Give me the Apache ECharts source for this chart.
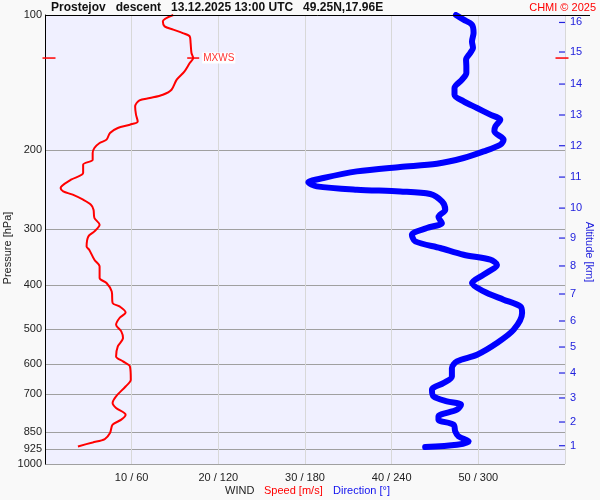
<!DOCTYPE html>
<html><head><meta charset="utf-8">
<script src="https://cdn.jsdelivr.net/npm/echarts@6/dist/echarts.min.js"></script>
<style>html,body{margin:0;padding:0;background:#F9F9F9}#c{width:600px;height:500px}</style>
</head><body><div id="c"></div>
<script>
const pressureTicks = [100, 200, 300, 400, 500, 600, 700, 850, 925, 1000];
const speedTicks = [10, 20, 30, 40, 50];
const directionTicks = [60, 120, 180, 240, 300];
const altitudeKm = [1, 2, 3, 4, 5, 6, 7, 8, 9, 10, 11, 12, 13, 14, 15, 16];
const altitudePressure = [910.5, 806.3, 712.8, 627.1, 548.9, 480.3, 418.2, 362.2, 313.9, 269.2, 229.6, 195.5, 167.0, 142.5, 120.9, 103.9];

const speedPressure = [100,103.3,106.0,107.8,109.7,111.6,115.4,121.5,124.7,127.9,133.5,139.3,146.7,150.5,153.1,154.9,159.8,166.7,172.6,175.5,178.5,183.1,189.5,192.8,197.8,202.9,210.0,215.5,224.9,232.7,242.9,247.1,251.3,257.9,264.6,271.4,283.2,293.1,303.4,311.3,327.7,333.2,350.8,363.0,385.2,395.3,412.7,437.9,445.7,459.6,473.0,489.6,506.6,524.1,547.1,576.0,590.9,606.2,649.2,672.0,706.8,731.3,750.3,776.5,796.6,817.4,853.1,879.7,895.2,913.8];
const speed = [14.8,13.6,13.8,14.8,15.9,16.7,16.8,16.9,17.1,16.7,16.1,15.2,14.6,13.6,12.1,10.9,10.4,10.5,10.7,9.8,8.4,7.5,7.1,6.3,5.7,5.5,5.5,4.4,4.4,3.0,1.8,2.1,3.2,4.4,5.3,5.6,5.7,6.3,5.7,5.0,4.8,5.1,5.7,6.3,6.3,7.1,7.7,7.8,8.6,9.3,8.6,8.2,8.8,9.0,8.4,8.2,9.0,9.8,9.9,9.3,8.2,7.8,8.2,9.3,8.8,7.8,7.5,6.9,5.5,3.8];

const dirPressure = [100,102.4,105.1,109.7,114.5,118.4,121.5,125.8,130.2,134.6,139.3,145.4,150.5,155.7,161.1,166.7,171.1,177.1,181.6,189.5,194.5,201.3,208.2,214.4,218.0,223.0,230.7,235.9,240.8,245.0,247.1,250.4,260.1,271.4,281.8,290.6,298.1,308.6,319.3,330.3,341.9,350.8,359.8,378.7,395.3,412.7,430.6,445.7,461.0,502.2,537.7,570.9,590.9,611.2,638.1,660.1,683.1,706.8,725.3,737.7,756.8,783.4,796.6,817.4,846.0,867.9,890.7,905.8,916.5];
const direction = [284.5,289.8,295.6,296.7,295.6,296.3,294.4,291.5,291.7,291.7,288.7,283.5,283.5,289.8,299.1,308.3,315.2,311.8,311.1,317.5,315.2,303.7,289.8,271.3,245.9,215.9,192.7,182.3,188.1,215.9,245.9,266.7,274.8,277.1,272.4,274.8,264.4,254.0,256.3,273.6,289.8,308.3,312.9,303.7,295.6,303.7,317.5,329.1,330.3,324.5,312.9,299.1,285.2,281.7,281.7,275.9,267.9,269.0,278.3,288.0,285.2,272.4,272.4,282.9,284.0,286.3,293.3,285.2,263.2];

const mxwsSpeed = 17.1;
const mxwsPressure = 124.7;
const speedMax = 60;

const FONT = 'Arial, "Liberation Sans", sans-serif';
const BLUE_TXT = '#2222DD';

const chart = echarts.init(document.getElementById('c'), null, {renderer: 'canvas'});

const option = {
  animation: false,
  backgroundColor: '#F9F9F9',
  textStyle: {fontFamily: FONT},
  grid: {left: 45, top: 15, width: 520, height: 449, show: true, backgroundColor: '#F0F0FF', borderWidth: 0, containLabel: false},
  xAxis: [
    {
      type: 'value', min: 0, max: speedMax, interval: 10, position: 'bottom',
      axisLine: {show: false}, axisTick: {show: false},
      splitLine: {show: true, lineStyle: {color: '#D8D8D8', width: 1}},
      axisLabel: {
        fontSize: 11, color: '#222', margin: 8, fontFamily: FONT,
        formatter: v => { const i = speedTicks.indexOf(v); return i < 0 ? '' : v + ' / ' + directionTicks[i]; }
      }
    },
    {type: 'value', min: 0, max: 360, show: false}
  ],
  yAxis: [
    {
      type: 'log', logBase: 10, min: 100, max: 1000, inverse: true, position: 'left',
      axisLine: {show: true, lineStyle: {color: '#000', width: 1}},
      axisTick: {show: false, customValues: pressureTicks},
      minorTick: {show: false},
      axisLabel: {customValues: pressureTicks, fontSize: 11, color: '#222', margin: 3, fontFamily: FONT,
        formatter: v => String(Math.round(v))},
      splitLine: {show: true, lineStyle: {color: '#A0A0A0', width: 1}},
      minorSplitLine: {show: false}
    }
  ],
  series: [
    {
      type: 'line', name: 'Direction', xAxisIndex: 1, yAxisIndex: 0,
      data: direction.map((d, i) => [d, dirPressure[i]]),
      showSymbol: false, smooth: 0.3, z: 2,
      lineStyle: {color: '#0000FF', width: 6, cap: 'round', join: 'round'}
    },
    {
      type: 'line', name: 'Speed', xAxisIndex: 0, yAxisIndex: 0,
      data: speed.map((s, i) => [s, speedPressure[i]]),
      showSymbol: false, smooth: 0.3, z: 3,
      lineStyle: {color: '#FF0000', width: 2}
    },
    {
      type: 'scatter', name: 'Altitude', xAxisIndex: 0, yAxisIndex: 0, z: 4, clip: false, silent: true,
      symbol: 'rect', symbolSize: [6, 1.2], symbolOffset: [-3, 0],
      data: altitudePressure.map((p, i) => ({value: [speedMax, p], name: String(altitudeKm[i])})),
      itemStyle: {color: BLUE_TXT, opacity: 1},
      label: {show: true, position: 'right', distance: 5, formatter: '{b}', color: BLUE_TXT, fontSize: 11, fontFamily: FONT, opacity: 1}
    },
    {
      type: 'scatter', xAxisIndex: 0, yAxisIndex: 0, z: 5, clip: false, silent: true,
      symbol: 'rect',
      data: [
        {value: [mxwsSpeed, mxwsPressure], symbolSize: [12, 1.5],
          label: {show: true, position: 'right', distance: 3, formatter: 'MXWS', color: '#FF3333', fontSize: 10, fontFamily: FONT,
            backgroundColor: '#FFFFFF', padding: [1, 1, 0, 1]}},
        {value: [0, mxwsPressure], symbolSize: [13, 1.5], symbolOffset: [4, 0]},
        {value: [speedMax, mxwsPressure], symbolSize: [13, 1.5], symbolOffset: [-3, 0]}
      ],
      itemStyle: {color: '#FF0000', opacity: 1}
    }
  ],
  graphic: [
    {type: 'line', shape: {x1: 45, y1: 15.5, x2: 590, y2: 15.5}, style: {stroke: '#000', lineWidth: 1}, z: 10},
    {type: 'text', x: 51, y: 8, style: {text: 'Prostejov   descent   13.12.2025 13:00 UTC   49.25N,17.96E', font: 'bold 12px ' + FONT, fill: '#111', textVerticalAlign: 'middle'}},
    {type: 'text', x: 596, y: 8, style: {text: 'CHMI © 2025', font: '11px ' + FONT, fill: '#FF0000', textAlign: 'right', textVerticalAlign: 'middle'}},
    {type: 'text', x: 8, y: 248, rotation: Math.PI / 2, style: {text: 'Pressure [hPa]', font: '11px ' + FONT, fill: '#222', textAlign: 'center', textVerticalAlign: 'middle'}},
    {type: 'text', x: 589, y: 252, rotation: -Math.PI / 2, style: {text: 'Altitude [km]', font: '11px ' + FONT, fill: BLUE_TXT, textAlign: 'center', textVerticalAlign: 'middle'}},
    {type: 'text', x: 225, y: 491, style: {text: 'WIND', font: '11px ' + FONT, fill: '#222', textVerticalAlign: 'middle'}},
    {type: 'text', x: 264, y: 491, style: {text: 'Speed [m/s]', font: '11px ' + FONT, fill: '#FF0000', textVerticalAlign: 'middle'}},
    {type: 'text', x: 333, y: 491, style: {text: 'Direction [°]', font: '11px ' + FONT, fill: '#1111EE', textVerticalAlign: 'middle'}}
  ]
};
chart.setOption(option);
</script>
</body></html>
